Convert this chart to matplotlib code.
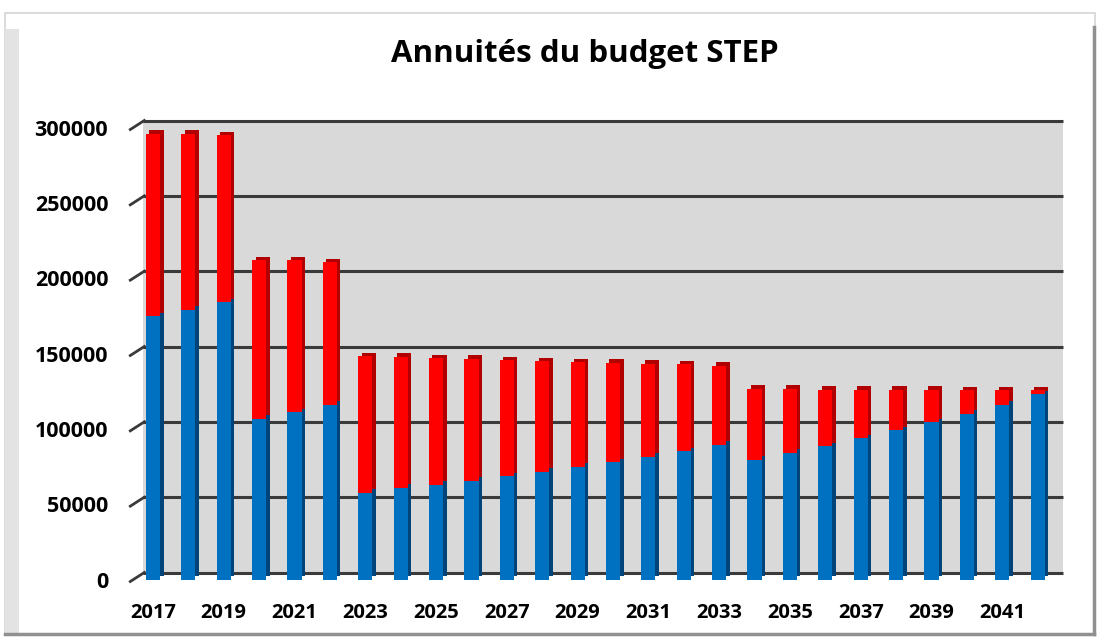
import matplotlib
matplotlib.use("Agg")
import matplotlib.pyplot as plt
import matplotlib.transforms as mtransforms
from matplotlib.patches import Rectangle
import numpy as np

# Data (stacked: blue part + red part = total)
years = list(range(2017, 2043))
blue = [174800, 179000, 184000, 106600, 111000, 116000, 57500, 60800, 63000,
        65700, 68600, 71500, 74800, 77900, 81400, 85200, 89400, 79600, 84100,
        88500, 93600, 99100, 104400, 110000, 116100, 122800]
total = [296000, 296000, 295000, 212000, 212000, 210600, 148300, 147800, 147000,
         146500, 145600, 144900, 144200, 143800, 143200, 142700, 141800, 126600,
         126600, 126100, 126100, 126100, 126000, 125700, 125700, 125700]
red = [t - b for t, b in zip(total, blue)]
yticks = [0, 50000, 100000, 150000, 200000, 250000, 300000]

W, H = 1102, 637
fig = plt.figure(figsize=(W / 100, H / 100), dpi=100)
fig.patch.set_facecolor("white")

# chart frame
fig.add_artist(Rectangle((5 / W, 3 / H), 1090 / W, 621 / H, transform=fig.transFigure,
                         facecolor="white", edgecolor="#d4d4d4", lw=1.2, zorder=0))
fig.add_artist(Rectangle((5 / W, 3 / H), 14 / W, 605 / H, transform=fig.transFigure,
                         facecolor="#e3e3e3", edgecolor="none", zorder=0))
fig.add_artist(plt.Line2D([1094 / W, 1094 / W], [3 / H, 610 / H], transform=fig.transFigure,
                          color="#909090", lw=2.5))
fig.add_artist(plt.Line2D([5 / W, 1094 / W], [3.5 / H, 3.5 / H], transform=fig.transFigure,
                          color="#909090", lw=2.5))

# front plane of the 3D plot
ax = fig.add_axes([135.3 / W, 57.5 / H, 920 / W, 452 / H])
ax.set_facecolor("none")
for s in ax.spines.values():
    s.set_visible(False)

x = np.arange(len(years))
ax.set_xlim(-0.5, len(years) - 0.5)
ax.set_ylim(0, 300000)

# depth offset of the back wall
back = ax.transAxes + mtransforms.ScaledTranslation(0.08, 0.07, fig.dpi_scale_trans)
back_data = mtransforms.blended_transform_factory(ax.transAxes, ax.transData) + \
    mtransforms.ScaledTranslation(0.08, 0.07, fig.dpi_scale_trans)
ax.add_patch(Rectangle((0, 0), 1, 1, transform=back, facecolor="#d9d9d9",
                       edgecolor="none", zorder=0, clip_on=False))
tick_tr = mtransforms.blended_transform_factory(ax.transAxes, ax.transData)
for v in yticks:
    ax.plot([0, 1], [v, v], transform=back_data, color="#3a3a3a", lw=2.2,
            zorder=1, clip_on=False, solid_capstyle="butt")
    # slanted tick on the left wall
    p = tick_tr.transform((0, v))
    ax.plot([p[0] - 5, p[0] + 9], [p[1] - 2, p[1] + 7], transform=None,
            color="#3a3a3a", lw=2, clip_on=False, zorder=1)

# bars: darker copy shifted back gives side/top faces
w = 0.40
side = ax.transData + mtransforms.ScaledTranslation(0.035, 0.035, fig.dpi_scale_trans)
ax.bar(x, blue, w, color="#00447a", transform=side, zorder=2)
ax.bar(x, red, w, bottom=blue, color="#b00000", transform=side, zorder=2)
ax.bar(x, blue, w, color="#0070c0", zorder=3)
ax.bar(x, red, w, bottom=blue, color="#ff0000", zorder=3)

# labels
ax.set_yticks(yticks)
ax.set_yticklabels([str(v) for v in yticks])
ax.set_xticks(x[::2])
ax.set_xticklabels([str(y) for y in years[::2]])
ax.tick_params(axis="y", length=0, pad=19.5, labelsize=15.5)
ax.tick_params(axis="x", length=0, pad=17, labelsize=14.5)
for lab in ax.get_yticklabels() + ax.get_xticklabels():
    lab.set_fontfamily("Open Sans")
    lab.set_fontweight("bold")

fig.text(585 / W, 1 - 54 / H, "Annuités du budget STEP", ha="center", va="center",
         fontsize=22.5, fontweight="bold", family="Open Sans")

fig.savefig("out.png", dpi=100)
